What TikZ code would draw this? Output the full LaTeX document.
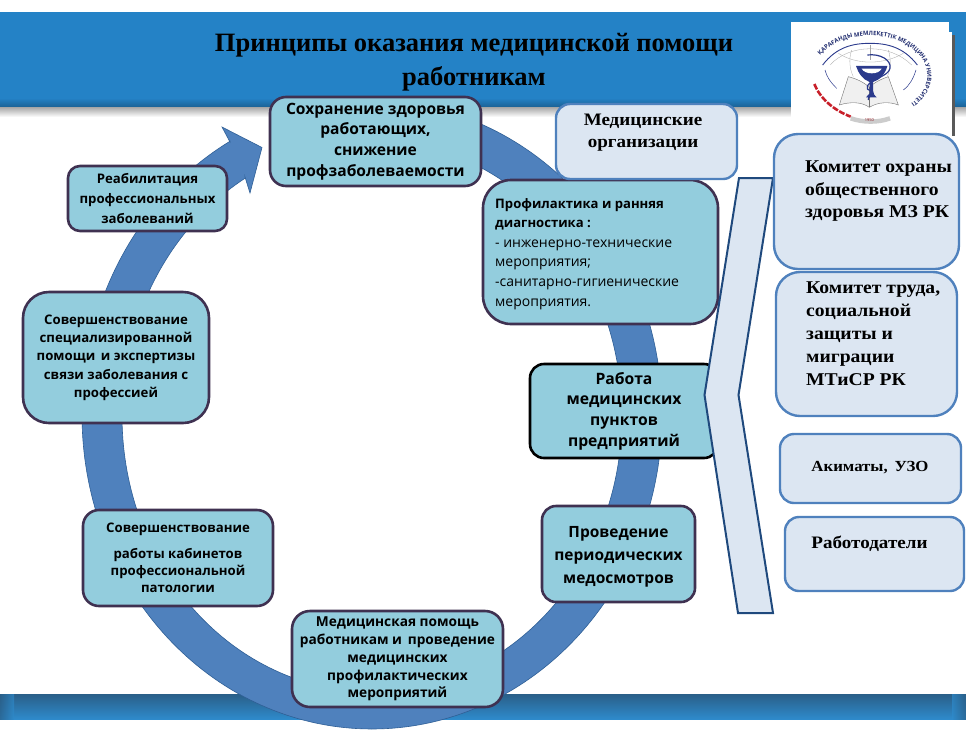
\documentclass[tikz,border=0pt]{standalone}
\usepackage{fontspec}
\setmainfont{Liberation Serif}
\setsansfont{Open Sans}
\newfontfamily\widerm[FakeStretch=1.09]{Liberation Serif}
\usetikzlibrary{shadows,decorations.text}
\definecolor{ringblue}{HTML}{4F81BD}
\definecolor{ringedge}{HTML}{2F5F96}
\definecolor{tealfill}{HTML}{93CDDD}
\definecolor{plum}{HTML}{3F3151}
\definecolor{palefill}{HTML}{DCE6F2}
\definecolor{chevedge}{HTML}{1F497D}
\definecolor{headblue}{HTML}{2482C6}
\definecolor{footdark}{HTML}{2A5F88}
\definecolor{footblue}{HTML}{2E8ACB}
\definecolor{logonavy}{HTML}{2B3A8C}
\definecolor{logored}{HTML}{C8202A}
\tikzset{
  tealbox/.style={draw=plum,line width=2.6pt,fill=tealfill,align=center,inner sep=0pt},
  palebox/.style={draw=ringblue,line width=2.4pt,fill=palefill,inner sep=0pt},
  sertext/.style={align=center,inner sep=0pt,text=black},
  santext/.style={align=center,inner sep=0pt,text=black},
}
\newcommand{\bx}[7]{\node[#6,rounded corners=#7pt,minimum width={(#4-#2)*1pt},minimum height={(#5-#3)*1pt}] (#1) at ({(#2+#4)/2},{(#3+#5)/2}) {};}
\newcommand{\fs}[2]{\fontsize{#1}{#2}\selectfont}
\newcommand{\sfb}{\sffamily\bfseries}
\newcommand{\wfb}{\widerm\bfseries}
\begin{document}
\begin{tikzpicture}[x=1pt,y=-1pt]
\useasboundingbox (0,0) rectangle (966,729);
\fill[white] (0,0) rectangle (966,729);
% header
\fill[headblue] (0,12) rectangle (966,98);
\shade[top color=headblue,bottom color=headblue!75!black] (0,98) rectangle (966,107);
\shade[top color=black!35,bottom color=white] (0,107) rectangle (966,117);
% footer
\shade[top color=footdark,bottom color=footblue] (0,694) rectangle (966,719);
\shade[left color=footdark,right color=footblue,opacity=.7] (0,694) rectangle (14,719);
\shade[right color=footdark,left color=footblue,opacity=.7] (952,694) rectangle (966,719);
% title
\node[sertext,font=\bfseries\fs{26.5}{34}] (title) at (474,62.5) {Принципы оказания медицинской помощи\\работникам};
% logo
\fill[black!65] (952,35) rectangle (955,136);
\fill[white] (949,32) rectangle (952,134);
\fill[white] (791,22) rectangle (949,134);
\begin{scope}[shift={(780,10)},x=.3333pt,y=-.3333pt]
  \draw[black!35,line width=.3pt] (150,165) .. controls (210,100) and (330,100) .. (395,165);
  \draw[black!35,line width=.3pt] (215,120) .. controls (205,150) and (210,180) .. (220,200);
  \draw[black!35,line width=.3pt] (325,120) .. controls (335,150) and (330,180) .. (322,200);
  \draw[black!35,line width=.3pt] (270,105) -- (270,150);
  \draw[black!35,line width=.3pt] (175,130) .. controls (230,165) and (310,165) .. (370,130);
  \draw[logonavy,line width=.9pt] (128,165) .. controls (170,110) and (220,100) .. (270,100) .. controls (320,100) and (370,110) .. (412,165);
  \draw[logonavy,line width=.5pt] (135,180) .. controls (140,200) and (150,215) .. (170,235);
  \draw[logonavy,line width=.5pt] (408,180) .. controls (400,205) and (390,225) .. (370,240);
  % book
  \draw[black!55,line width=.4pt,fill=black!6] (205,200) -- (178,285) .. controls (210,275) and (245,275) .. (268,292) .. controls (295,275) and (330,275) .. (355,285) -- (325,200) .. controls (310,205) and (285,215) .. (268,232) .. controls (250,215) and (225,205) .. (205,200) -- cycle;
  \draw[black!55,line width=.4pt] (268,232) -- (268,292);
  % cup and snake
  \fill[logonavy] (228,168) -- (322,168) .. controls (315,195) and (295,212) .. (279,216) -- (279,250) -- (290,262) -- (258,262) -- (269,250) -- (269,216) .. controls (250,210) and (235,190) .. (228,168) -- cycle;
  \fill[white] (245,176) -- (305,176) .. controls (300,185) and (290,190) .. (275,190) .. controls (262,190) and (250,185) .. (245,176) -- cycle;
  \draw[logonavy,line width=1.2pt] (262,135) .. controls (300,130) and (335,150) .. (330,175) .. controls (325,200) and (275,205) .. (262,228) .. controls (255,245) and (285,240) .. (280,252) .. controls (275,262) and (262,258) .. (265,270);
  % ornament
  \draw[logored,line width=2.6pt,dash pattern=on 6pt off 1.5pt] (103,222) .. controls (120,265) and (160,300) .. (212,320);
  % base arc
  \draw[black!20,line width=4.5pt] (212,325) .. controls (250,338) and (295,338) .. (330,325);
  \node[inner sep=0pt,font=\sffamily\fs{4}{5},text=logored!70!black] (year) at (268,330) {1950};
  % lettering
  \path[decorate,decoration={text along path,text align=center,text={|\sffamily\bfseries\fs{5.9}{7}\color{logonavy!80!black}|ҚАРАҒАНДЫ МЕМЛЕКЕТТІК МЕДИЦИНА УНИВЕРСИТЕТІ}}]
    plot[domain=172:-62,samples=80] ({270+172*cos(\x)},{197-120*sin(\x)});
\end{scope}
% ring
\path[fill=ringblue,draw=ringedge,line width=.6pt]
  (230,142) -- (222,127) -- (262,147.5) -- (250,193) -- (245,177)
  -- plot[domain=120.5:435,samples=240] ({372+250*cos(\x)},{416-276*sin(\x)})
  -- plot[domain=435:119.3,samples=240] ({372+290*cos(\x)},{415-314*sin(\x)}) -- cycle;
% teal boxes
\node[tealbox,rounded corners=16pt,minimum width=211pt,minimum height=89pt,font=\sfb\fs{15.6}{20.7}] (top) at (375.5,141.5) {Сохранение здоровья\\работающих,\\снижение\\профзаболеваемости};
\node[tealbox,rounded corners=12pt,minimum width=159pt,minimum height=65pt,font=\sfb\fs{13.2}{20}] (rehab) at (147.5,198.5) {Реабилитация\\профессиональных\\заболеваний};
\node[tealbox,rounded corners=26pt,minimum width=186pt,minimum height=131pt,font=\sfb\fs{13.2}{18.3}] (spec) at (116,357.5) {Совершенствование\\специализированной\\помощи\, и экспертизы\\связи заболевания с\\профессией};
\node[tealbox,rounded corners=16pt,minimum width=190pt,minimum height=96pt,font=\sfb\fs{13.2}{17}] (cab) at (178,558) {Совершенствование\\[9pt]работы кабинетов\\профессиональной\\патологии};
\node[tealbox,rounded corners=18pt,minimum width=211pt,minimum height=96pt,font=\sfb\fs{13.7}{17.8}] (med) at (397.5,659) {Медицинская помощь\\работникам и\, проведение\\медицинских\\профилактических\\мероприятий};
\bx{per}{542}{506}{695}{602}{tealbox}{14}
\node[santext,font=\sfb\fs{15.5}{23}] (pert) at (618.5,557) {Проведение\\периодических\\медосмотров};
\node[tealbox,draw=black,rounded corners=14pt,minimum width=188pt,minimum height=94pt,font=\sfb\fs{15.7}{20.7}] (work) at (624,411) {Работа\\медицинских\\пунктов\\предприятий};
\bx{prof}{483}{180}{718}{324}{tealbox}{28}
\node[santext,anchor=north west,align=left,font=\sffamily\fs{14}{19.6}] (proft) at (495,198) {{\bfseries\fs{13.1}{19.6}Профилактика и ранняя}\\{\bfseries\fs{13.1}{19.6}диагностика :}\\- инженерно-технические\\мероприятия;\\-санитарно-гигиенические\\мероприятия.};
% chevron
\draw[draw=chevedge,fill=palefill,line width=2pt] (739,178) -- (773,178) -- (738.5,395) -- (773,613) -- (738,613) -- (704.5,395) -- cycle;
% pale boxes
\bx{orgs}{556}{104}{737}{179}{palebox}{14}
\node[sertext,font=\wfb\fs{17.5}{22}] (orgst) at (643,133) {Медицинские\\организации};
\bx{kom}{774}{134}{959}{269}{palebox}{24}
\node[sertext,anchor=north west,align=left,font=\wfb\fs{18}{22.5}] (komt) at (805,161) {Комитет охраны\\общественного\\здоровья МЗ РК};
\bx{trud}{776}{272}{957}{416}{palebox}{24}
\node[sertext,anchor=north west,align=left,font=\wfb\fs{18}{22.8}] (trudt) at (806,282) {Комитет труда,\\социальной\\защиты и\\миграции\\МТиСР РК};
\bx{akim}{780}{434}{961}{503}{palebox}{14}
\node[sertext,font=\wfb\fs{15.4}{18}] (akimt) at (870,468) {Акиматы,\, УЗО};
\bx{empl}{785}{517}{964}{591}{palebox}{14}
\node[sertext,font=\wfb\fs{17.5}{18}] (emplt) at (869.5,544) {Работодатели};
\end{tikzpicture}
\end{document}
